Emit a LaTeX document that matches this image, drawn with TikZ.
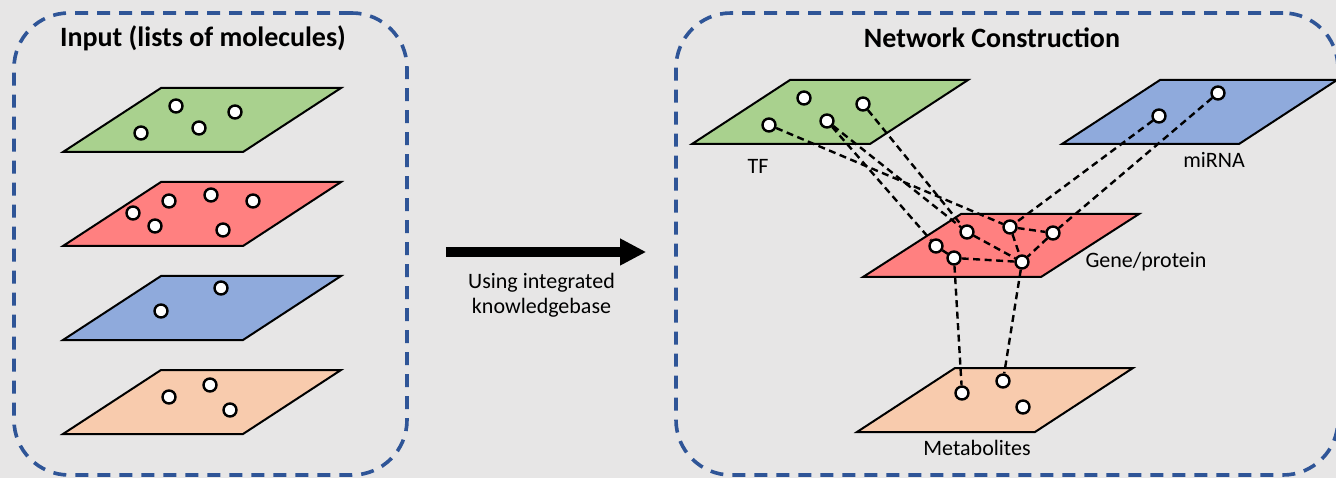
\documentclass[tikz,border=0pt]{standalone}
\usepackage{fontspec}
\setmainfont{Carlito}
\usepackage{tikz}
\usetikzlibrary{positioning,arrows.meta}

\definecolor{bgray}{RGB}{231,230,230}
\definecolor{pblue}{RGB}{47,85,151}
\definecolor{lgreen}{RGB}{169,209,142}
\definecolor{lred}{RGB}{255,128,128}
\definecolor{lblue}{RGB}{143,170,220}
\definecolor{lorange}{RGB}{248,203,173}

\begin{document}
\begin{tikzpicture}[x=1pt,y=-1pt,>=Triangle,
                    panel/.style={draw=pblue, line width=3.6pt, dash pattern=on 13pt off 9pt,
                                  rounded corners=55pt, minimum width=#1, minimum height=462pt, inner sep=0pt},
                    title/.style={font=\fontsize{28}{32}\selectfont\bfseries},
                    lbl/.style={font=\fontsize{22}{25}\selectfont, align=center},
                    layer/.style={draw=black, line width=2pt, line join=miter},
                    mol/.style={circle, draw=black, fill=white, line width=2.4pt, minimum size=13pt, inner sep=0pt},
                    link/.style={line width=2.4pt, dash pattern=on 7pt off 4.5pt}]
\useasboundingbox[fill=bgray] (0,0) rectangle (1336,478);

% the two panels
\node[panel=393pt] (inp) at (210.5,244) {};
\node[panel=662pt] (net) at (1007,244) {};
\node[title] (inptitle) at (203,38) {Input (lists of molecules)};
\node[title] (nettitle) at (992,38) {Network Construction};

% input layers
\foreach \y/\c in {152/lgreen,246/lred,340/lblue,434/lorange}
  \filldraw[layer,fill=\c] (63,\y) -- ++(180,0) -- ++(98,-64) -- ++(-180,0) -- cycle;

\node[mol] (a1) at (141,133) {};
\node[mol] (a2) at (176,106) {};
\node[mol] (a3) at (199,128) {};
\node[mol] (a4) at (235,112) {};
\node[mol] (b1) at (133,213) {};
\node[mol] (b2) at (169,201) {};
\node[mol] (b3) at (155,226) {};
\node[mol] (b4) at (211,195) {};
\node[mol] (b5) at (253,201) {};
\node[mol] (b6) at (223,230) {};
\node[mol] (c1) at (221,288) {};
\node[mol] (c2) at (161,311) {};
\node[mol] (d1) at (210,385) {};
\node[mol] (d2) at (169,397) {};
\node[mol] (d3) at (230,410) {};

% arrow between panels
\draw[line width=10pt, -{Triangle[length=26pt,width=25pt]}, shorten <=37pt, shorten >=28pt]
  ([yshift=-8pt]inp.east) -- node[lbl, below=13pt] (kb) {Using integrated\\knowledgebase} ([yshift=-8pt]net.west);

% network layers
\filldraw[layer,fill=lgreen]  (692,144) -- ++(178,0) -- ++(98,-64) -- ++(-178,0) -- cycle;
\filldraw[layer,fill=lblue]   (1062,144) -- ++(177,0) -- ++(98,-64) -- ++(-177,0) -- cycle;
\filldraw[layer,fill=lred]    (863,277) -- ++(178,0) -- ++(98,-63) -- ++(-178,0) -- cycle;
\filldraw[layer,fill=lorange] (857,432) -- ++(178,0) -- ++(98,-64) -- ++(-178,0) -- cycle;

\node[lbl] (tf) at (758,166) {TF};
\node[lbl] (mirna) at (1214,160) {miRNA};
\node[lbl] (gene) at (1146,262) {Gene/protein};
\node[lbl] (metab) at (977,448) {Metabolites};

\node[mol] (t1) at (769,125) {};
\node[mol] (t2) at (804,98) {};
\node[mol] (t3) at (827,121) {};
\node[mol] (t4) at (863,104) {};
\node[mol] (r1) at (1159,116) {};
\node[mol] (r2) at (1218,93) {};
\node[mol] (g1) at (936,246) {};
\node[mol] (g2) at (954,258) {};
\node[mol] (g3) at (967,232) {};
\node[mol] (g4) at (1010,227) {};
\node[mol] (g5) at (1053,233) {};
\node[mol] (g6) at (1022,262) {};
\node[mol] (m1) at (962,393) {};
\node[mol] (m2) at (1003,381) {};
\node[mol] (m3) at (1023,407) {};

% interactions
\draw[link] (t1) -- (g4);
\draw[link] (t3) -- (g1);
\draw[link] (t3) -- (g3);
\draw[link] (t4) -- (g3);
\draw[link] (r1) -- (g4);
\draw[link] (r2) -- (g5);
\draw[link] (g1) -- (g2);
\draw[link] (g2) -- (g6);
\draw[link] (g3) -- (g6);
\draw[link] (g4) -- (g5);
\draw[link] (g4) -- (g6);
\draw[link] (g5) -- (g6);
\draw[link] (g2) -- (m1);
\draw[link] (g6) -- (m2);
\end{tikzpicture}
\end{document}
